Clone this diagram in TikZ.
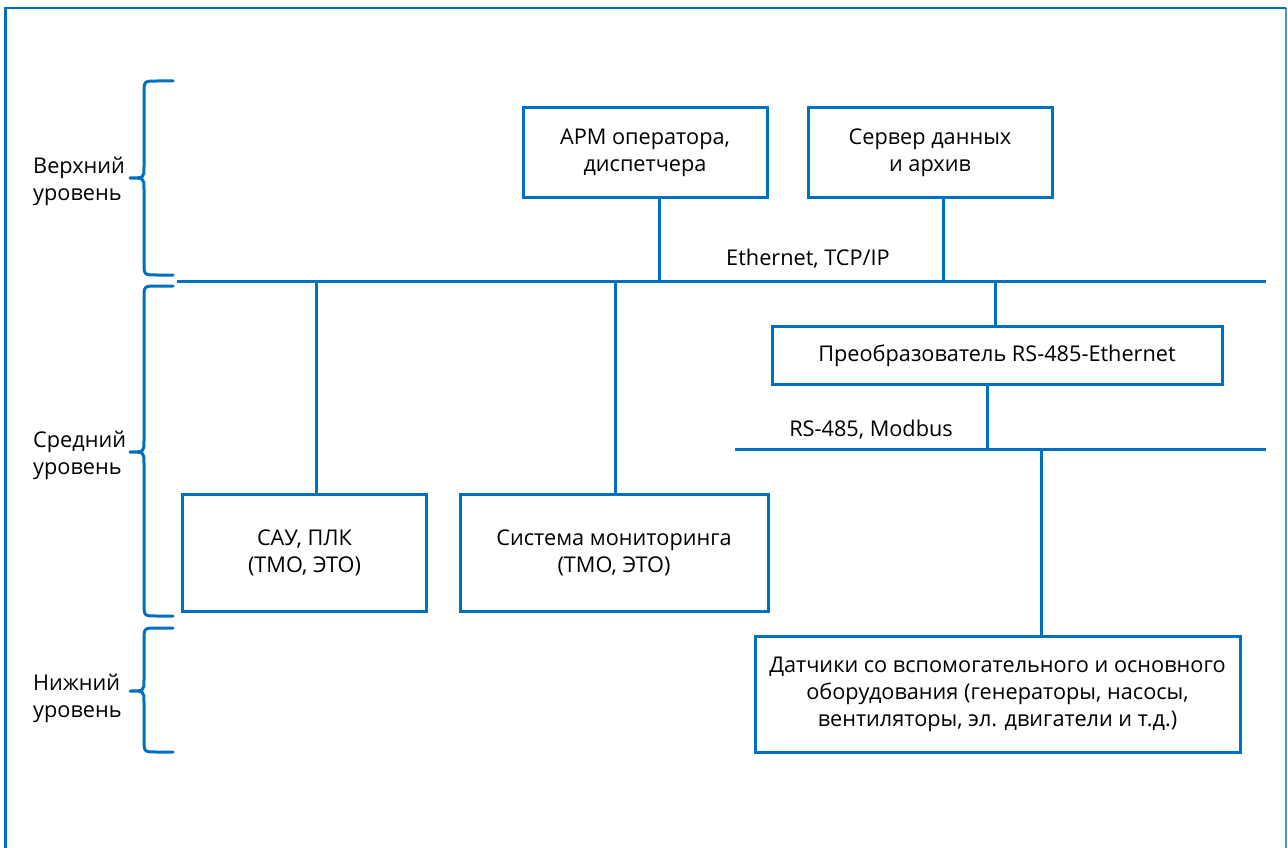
\documentclass[tikz,border=0pt]{standalone}
\usepackage{fontspec}
\setmainfont{Open Sans}
\definecolor{lineblue}{RGB}{0,112,192}
\definecolor{frameblue}{RGB}{70,150,215}
\begin{document}
\begin{tikzpicture}[x=1pt,y=-1pt,
  txt/.style={font=\fontsize{21.7}{27}\selectfont, text=black, align=center, inner sep=0pt},
  box/.style={draw=lineblue, line width=3pt, inner sep=0pt, font=\fontsize{21.7}{27}\selectfont, align=center},
  wire/.style={draw=lineblue, line width=3pt},
  bracestyle/.style={draw=lineblue, line width=3pt, line cap=round, line join=round}]
\useasboundingbox (0,0) rectangle (1288,848);
% frame
\draw[frameblue, line width=1.2pt] (1286,8) -- (1286,848);
\draw[lineblue, line width=2.5pt] (5,8) -- (1286,8);
\draw[lineblue, line width=3pt] (5,7) -- (5,848);
% braces
\newcommand{\mybrace}[3]{%
  \draw[bracestyle] (173,#1) -- (157,#1) .. controls (144,#1) .. (144,#1+13)
    -- (144,#2-11) .. controls (144,#2) .. (130,#2) .. controls (144,#2) .. (144,#2+11)
    -- (144,#3-13) .. controls (144,#3) .. (157,#3) -- (173,#3);}
\mybrace{81}{178}{275}
\mybrace{286}{452}{616}
\mybrace{628}{691}{752}
% level labels
\node[txt, align=left, anchor=west] (lv1) at (33,181) {Верхний\\уровень};
\node[txt, align=left, anchor=west] (lv2) at (33,455) {Средний\\уровень};
\node[txt, align=left, anchor=west] (lv3) at (33,698) {Нижний\\уровень};
% boxes
\node[box, minimum width=244pt, minimum height=89pt] (arm) at (645,152.5) {АРМ оператора,\\диспетчера};
\node[box, minimum width=244pt, minimum height=89pt] (srv) at (930,152.5) {Сервер данных\\и архив};
\node[box, minimum width=450pt, minimum height=58pt] (conv) at (997,355.5) {Преобразователь RS-485-Ethernet};
\node[box, minimum width=244pt, minimum height=117pt] (sau) at (304.5,552.5) {САУ, ПЛК\\(ТМО, ЭТО)};
\node[box, minimum width=308pt, minimum height=117pt] (mon) at (614,552.5) {Система мониторинга\\(ТМО, ЭТО)};
\node[box, minimum width=485pt, minimum height=116pt] (sens) at (997.5,694) {Датчики со вспомогательного и основного\\оборудования (генераторы, насосы,\\вентиляторы, эл. двигатели и т.д.)};
% buses
\coordinate (ethL) at (177,281);
\coordinate (ethR) at (1266,281);
\coordinate (rsL) at (735,449);
\coordinate (rsR) at (1266,449);
\draw[wire] (ethL) -- (ethR);
\draw[wire] (rsL) -- (rsR);
\node[txt] (ethlbl) at (808,259) {Ethernet, TCP/IP};
\node[txt] (rslbl) at (871,430) {RS-485, Modbus};
% taps
\coordinate (t1) at (659,281);
\coordinate (t2) at (943,281);
\coordinate (t3) at (316,281);
\coordinate (t4) at (615,281);
\coordinate (t5) at (995,281);
\coordinate (t6) at (987,449);
\coordinate (t7) at (1041,449);
\draw[wire] (t1 |- arm.south) -- (t1);
\draw[wire] (t2 |- srv.south) -- (t2);
\draw[wire] (t3) -- (t3 |- sau.north);
\draw[wire] (t4) -- (t4 |- mon.north);
\draw[wire] (t5) -- (t5 |- conv.north);
\draw[wire] (t6 |- conv.south) -- (t6);
\draw[wire] (t7) -- (t7 |- sens.north);
\end{tikzpicture}
\end{document}
